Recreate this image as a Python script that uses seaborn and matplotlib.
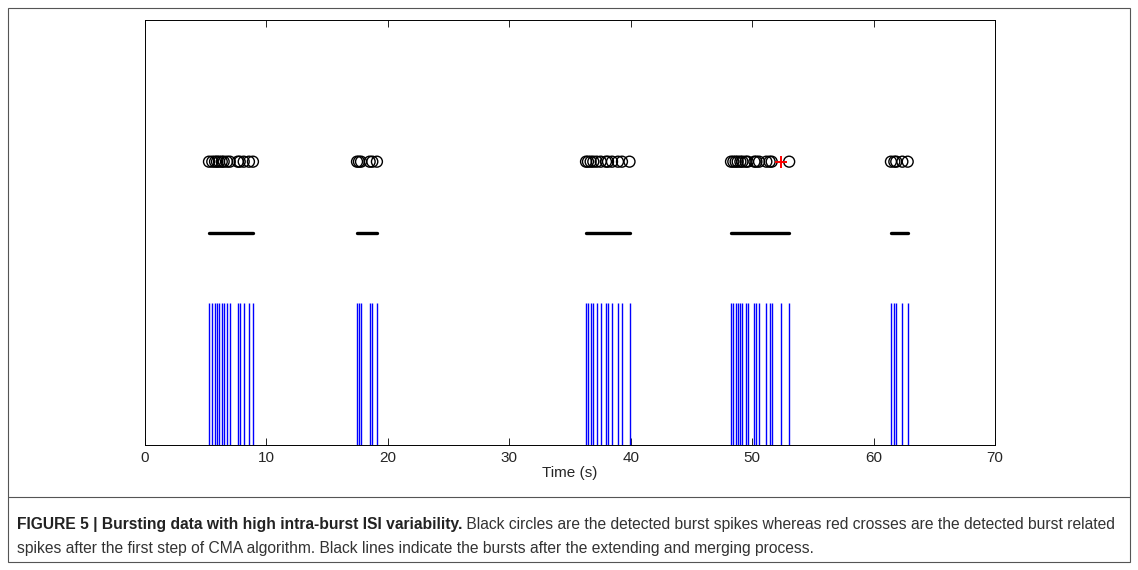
import numpy as np
import pandas as pd
import matplotlib
matplotlib.use("Agg")
import matplotlib.pyplot as plt
import seaborn as sns

# ---- data (seconds) ----
burst1 = [5.27, 5.54, 5.77, 5.93, 6.10, 6.32, 6.48, 6.75, 6.98, 7.64, 7.80, 8.13, 8.56, 8.89]
burst2 = [17.46, 17.62, 17.79, 18.50, 18.72, 19.10]
burst3 = [36.32, 36.48, 36.70, 36.92, 37.20, 37.53, 37.96, 38.13, 38.46, 38.95, 39.28, 39.90]
burst4 = [48.26, 48.45, 48.64, 48.81, 49.03, 49.20, 49.47, 49.63, 50.19, 50.35, 50.57,
          51.17, 51.44, 51.61, 52.35, 53.05]
burst5 = [61.43, 61.71, 61.87, 62.37, 62.81]
red_cross_times = [52.35]
burst_starts = [5.27, 17.46, 36.32, 48.26, 61.43]
burst_ends = [8.89, 19.10, 39.90, 53.05, 62.81]
spike_level = 1.0
burst_line_level = 1.5
marker_level = 2.0
xticks = [0, 10, 20, 30, 40, 50, 60, 70]
xlabel = "Time (s)"
caption_bold = "FIGURE 5 | Bursting data with high intra-burst ISI variability."
caption_rest1 = " Black circles are the detected burst spikes whereas red crosses are the detected burst related"
caption_line2 = "spikes after the first step of CMA algorithm. Black lines indicate the bursts after the extending and merging process."

spikes = burst1 + burst2 + burst3 + burst4 + burst5
circle_times = [t for t in spikes if t not in red_cross_times]

sns.set_theme(style="white")
plt.rcParams['font.family'] = ['Liberation Sans', 'DejaVu Sans']

fig = plt.figure(figsize=(11.38, 5.70), dpi=100)
W, H = 1138, 570
ax = fig.add_axes([145 / W, 1 - 445 / H, 850 / W, 425 / H])

# spikes
ax.vlines(spikes, 0, spike_level, colors='#0000ff', linewidth=1.0)
# burst lines
for s, e in zip(burst_starts, burst_ends):
    sns.lineplot(x=[s, e], y=[burst_line_level, burst_line_level], ax=ax,
                 color='black', linewidth=2.4, legend=False)
# circles
df_c = pd.DataFrame({'t': circle_times, 'y': [marker_level] * len(circle_times)})
sns.scatterplot(data=df_c, x='t', y='y', ax=ax, marker='o', s=62,
                facecolors='none', edgecolor='black', linewidth=1.0, legend=False)
# red crosses
df_r = pd.DataFrame({'t': red_cross_times, 'y': [marker_level] * len(red_cross_times)})
sns.scatterplot(data=df_r, x='t', y='y', ax=ax, marker='+', s=80,
                color='red', linewidth=1.4, legend=False)

ax.set_xlim(0, 70)
ax.set_ylim(0, 3)
ax.set_xticks(xticks)
ax.set_xticklabels([str(v) for v in xticks])
ax.set_yticks([])
ax.set_xlabel(xlabel, fontsize=11, labelpad=1)
ax.set_ylabel("")
ax.tick_params(axis='x', direction='in', length=5, width=0.6, top=True, bottom=True,
               labelsize=11, pad=4, color='black')
for sp in ax.spines.values():
    sp.set_visible(True)
    sp.set_color('black')
    sp.set_linewidth(0.7)

# outer frame and caption separator
fig.add_artist(plt.Rectangle((8 / W, 1 - 562 / H), 1122 / W, 554 / H,
                             transform=fig.transFigure, fill=False,
                             edgecolor='#555555', linewidth=0.8))
fig.add_artist(plt.Line2D([8 / W, 1130 / W], [1 - 497 / H, 1 - 497 / H],
                          transform=fig.transFigure, color='#555555', linewidth=0.8))

# caption, sized so that the first line spans the frame width like the original
cap_family = ['Liberation Sans', 'DejaVu Sans']
cap_color = '#333333'
x0 = 17 / W
y1 = 1 - 524 / H
y2 = 1 - 548 / H
target_right = 1118

def place_caption(size):
    tb = fig.text(x0, y1, caption_bold, fontsize=size, fontweight='bold',
                  family=cap_family, color='#222222', va='center', ha='left')
    fig.canvas.draw()
    r = fig.canvas.get_renderer()
    bb = tb.get_window_extent(renderer=r)
    tr = fig.text(bb.x1 / W, y1, caption_rest1, fontsize=size, family=cap_family,
                  color=cap_color, va='center', ha='left')
    t2 = fig.text(x0, y2, caption_line2, fontsize=size, family=cap_family,
                  color=cap_color, va='center', ha='left')
    fig.canvas.draw()
    right = tr.get_window_extent(renderer=r).x1
    return [tb, tr, t2], right

texts, right = place_caption(9.5)
new_size = 9.5 * (target_right - 17) / (right - 17)
for t in texts:
    t.remove()
place_caption(new_size)

fig.savefig("out.png", dpi=100)
